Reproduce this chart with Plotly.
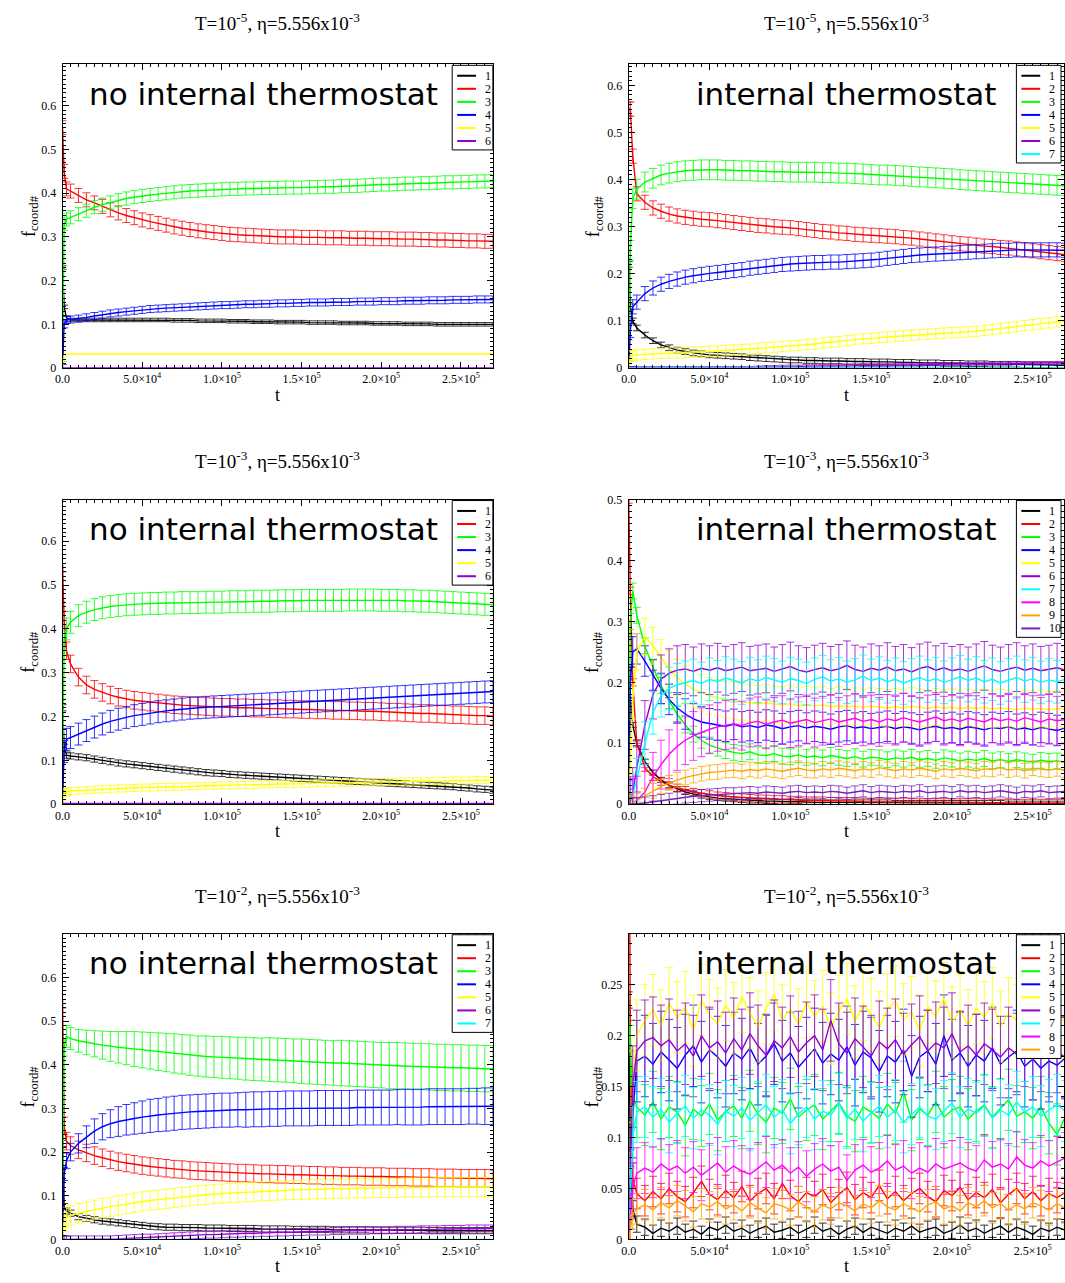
import plotly.graph_objects as go

W, H = 1065, 1283
SERIF = "Liberation Serif, Times New Roman, serif"
SANS = "DejaVu Sans, Verdana, sans-serif"

# ---------------------------------------------------------------- time grid
# sampling times in units of 1000 steps
T_KILO = [0, 1, 2.5, 5, 10,
          15, 20, 25, 30, 35, 40, 45, 50, 55, 60,
          65, 70, 75, 80, 85, 90, 95, 100, 105, 110,
          115, 120, 125, 130, 135, 140, 145, 150, 155, 160,
          165, 170, 175, 180, 185, 190, 195, 200, 205, 210,
          215, 220, 225, 230, 235, 240, 245, 250, 255, 260,
          265, 270]
T = [k * 1000 for k in T_KILO]

X_TICKS = [0, 50000, 100000, 150000, 200000, 250000]
X_TICK_TEXT = ["0.0", "5.0×10<sup>4</sup>", "1.0×10<sup>5</sup>", "1.5×10<sup>5</sup>",
               "2.0×10<sup>5</sup>", "2.5×10<sup>5</sup>"]

# grace palette, one colour per coordination number
COLORS = ["#000000", "#ff0000", "#00ff00", "#0000ff", "#ffff00",
          "#9400d3", "#00ffff", "#ff00ff", "#ffa500", "#7221bc"]

ZERO = [0.0, 0.0, 0.0, 0.0, 0.0,
        0.0, 0.0, 0.0, 0.0, 0.0, 0.0, 0.0, 0.0, 0.0, 0.0,
        0.0, 0.0, 0.0, 0.0, 0.0, 0.0, 0.0, 0.0, 0.0, 0.0,
        0.0, 0.0, 0.0, 0.0, 0.0, 0.0, 0.0, 0.0, 0.0, 0.0,
        0.0, 0.0, 0.0, 0.0, 0.0, 0.0, 0.0, 0.0, 0.0, 0.0,
        0.0, 0.0, 0.0, 0.0, 0.0, 0.0, 0.0, 0.0, 0.0, 0.0,
        0.0, 0.0]

# ------------------------------------------------ T=1e-5, no internal thermostat
TL_1 = [0.23, 0.14, 0.115, 0.11, 0.11,
        0.11, 0.11, 0.11, 0.11, 0.11, 0.11, 0.11, 0.11, 0.11, 0.11,
        0.11, 0.109, 0.109, 0.109, 0.108, 0.108, 0.108, 0.108, 0.107, 0.107,
        0.107, 0.106, 0.106, 0.106, 0.105, 0.105, 0.105, 0.105, 0.104, 0.104,
        0.104, 0.104, 0.103, 0.103, 0.103, 0.103, 0.102, 0.102, 0.102, 0.102,
        0.101, 0.101, 0.101, 0.101, 0.1, 0.1, 0.1, 0.1, 0.1, 0.1,
        0.1, 0.1]
TL_2 = [0.55, 0.45, 0.41, 0.405, 0.395,
        0.385, 0.378, 0.37, 0.362, 0.355, 0.349, 0.344, 0.339, 0.335, 0.331,
        0.327, 0.323, 0.32, 0.317, 0.314, 0.312, 0.31, 0.308, 0.306, 0.305,
        0.304, 0.303, 0.302, 0.301, 0.3, 0.3, 0.3, 0.299, 0.299, 0.299,
        0.298, 0.298, 0.298, 0.297, 0.297, 0.297, 0.296, 0.296, 0.296, 0.295,
        0.295, 0.295, 0.294, 0.294, 0.293, 0.293, 0.292, 0.292, 0.291, 0.291,
        0.29, 0.29]
TL_3 = [0.0, 0.33, 0.34, 0.345, 0.352,
        0.36, 0.368, 0.374, 0.379, 0.384, 0.388, 0.391, 0.394, 0.396, 0.398,
        0.4, 0.402, 0.404, 0.405, 0.406, 0.407, 0.408, 0.409, 0.41, 0.41,
        0.411, 0.411, 0.412, 0.412, 0.412, 0.413, 0.413, 0.413, 0.414, 0.414,
        0.415, 0.415, 0.416, 0.417, 0.417, 0.418, 0.419, 0.42, 0.42, 0.421,
        0.422, 0.422, 0.423, 0.423, 0.424, 0.425, 0.425, 0.426, 0.426, 0.427,
        0.427, 0.428]
TL_4 = [0.0, 0.1, 0.11, 0.111, 0.113,
        0.116, 0.119, 0.122, 0.125, 0.127, 0.129, 0.131, 0.133, 0.135, 0.136,
        0.137, 0.138, 0.139, 0.14, 0.141, 0.142, 0.143, 0.144, 0.144, 0.145,
        0.146, 0.146, 0.147, 0.147, 0.148, 0.148, 0.149, 0.149, 0.15, 0.15,
        0.15, 0.151, 0.151, 0.151, 0.152, 0.152, 0.152, 0.153, 0.153, 0.153,
        0.154, 0.154, 0.154, 0.155, 0.155, 0.155, 0.156, 0.156, 0.156, 0.157,
        0.157, 0.157]
TL_5 = [0.0, 0.03, 0.032, 0.032, 0.032,
        0.032, 0.032, 0.032, 0.032, 0.032, 0.032, 0.032, 0.032, 0.032, 0.032,
        0.032, 0.032, 0.032, 0.032, 0.032, 0.032, 0.032, 0.032, 0.032, 0.032,
        0.032, 0.032, 0.032, 0.032, 0.032, 0.032, 0.032, 0.032, 0.032, 0.032,
        0.032, 0.032, 0.032, 0.032, 0.032, 0.032, 0.032, 0.032, 0.032, 0.032,
        0.032, 0.032, 0.032, 0.032, 0.032, 0.032, 0.032, 0.032, 0.032, 0.032,
        0.032, 0.032]
TL_6 = ZERO
TL_ERR = [0.004, 0.016, 0.015, 0.008, 0.0, 0.0]

# --------------------------------------------------- T=1e-5, internal thermostat
TR_1 = [0.22, 0.13, 0.1, 0.085, 0.07,
        0.058, 0.049, 0.043, 0.038, 0.035, 0.032, 0.03, 0.028, 0.027, 0.026,
        0.025, 0.024, 0.022, 0.021, 0.02, 0.019, 0.018, 0.017, 0.017, 0.016,
        0.016, 0.015, 0.015, 0.015, 0.014, 0.014, 0.014, 0.013, 0.013, 0.013,
        0.012, 0.012, 0.012, 0.011, 0.011, 0.011, 0.01, 0.01, 0.01, 0.009,
        0.009, 0.009, 0.008, 0.008, 0.008, 0.008, 0.007, 0.007, 0.007, 0.007,
        0.006, 0.006]
TR_2 = [0.55, 0.55, 0.45, 0.37, 0.352,
        0.34, 0.333, 0.327, 0.323, 0.32, 0.318, 0.316, 0.315, 0.313, 0.311,
        0.309, 0.307, 0.305, 0.303, 0.302, 0.3, 0.299, 0.298, 0.296, 0.294,
        0.292, 0.29, 0.289, 0.287, 0.286, 0.284, 0.283, 0.282, 0.281, 0.28,
        0.279, 0.277, 0.276, 0.274, 0.272, 0.27, 0.268, 0.266, 0.264, 0.263,
        0.261, 0.259, 0.258, 0.256, 0.255, 0.253, 0.251, 0.249, 0.247, 0.245,
        0.243, 0.241]
TR_3 = [0.0, 0.25, 0.36, 0.38, 0.395,
        0.403, 0.41, 0.414, 0.417, 0.419, 0.42, 0.421, 0.421, 0.421, 0.42,
        0.42, 0.419, 0.419, 0.418, 0.418, 0.417, 0.417, 0.416, 0.416, 0.416,
        0.416, 0.415, 0.415, 0.414, 0.414, 0.413, 0.412, 0.411, 0.41, 0.41,
        0.409, 0.408, 0.407, 0.406, 0.405, 0.404, 0.403, 0.402, 0.4, 0.399,
        0.398, 0.397, 0.396, 0.395, 0.394, 0.393, 0.392, 0.391, 0.39, 0.389,
        0.388, 0.387]
TR_4 = [0.0, 0.08, 0.13, 0.14, 0.158,
        0.17, 0.178, 0.184, 0.189, 0.193, 0.196, 0.199, 0.201, 0.203, 0.205,
        0.207, 0.209, 0.212, 0.214, 0.216, 0.218, 0.22, 0.221, 0.222, 0.223,
        0.224, 0.224, 0.225, 0.225, 0.226, 0.227, 0.228, 0.229, 0.231, 0.233,
        0.235, 0.237, 0.239, 0.24, 0.241, 0.242, 0.243, 0.244, 0.245, 0.246,
        0.247, 0.248, 0.249, 0.25, 0.25, 0.251, 0.251, 0.251, 0.251, 0.251,
        0.251, 0.25]
TR_5 = [0.0, 0.025, 0.027, 0.028, 0.029,
        0.03, 0.031, 0.032, 0.032, 0.033, 0.034, 0.034, 0.035, 0.036, 0.037,
        0.038, 0.039, 0.04, 0.042, 0.043, 0.044, 0.046, 0.047, 0.048, 0.05,
        0.051, 0.053, 0.055, 0.056, 0.058, 0.06, 0.062, 0.063, 0.065, 0.066,
        0.067, 0.068, 0.07, 0.071, 0.072, 0.073, 0.074, 0.075, 0.076, 0.077,
        0.078, 0.08, 0.082, 0.084, 0.086, 0.088, 0.09, 0.092, 0.094, 0.096,
        0.098, 0.1]
TR_6 = [0.0, 0.0, 0.0, 0.0, 0.0,
        0.0, 0.0, 0.0, 0.0, 0.0, 0.0, 0.0, 0.0, 0.0, 0.0,
        0.0, 0.0, 0.0, 0.001, 0.002, 0.002, 0.003, 0.003, 0.003, 0.004,
        0.004, 0.004, 0.005, 0.005, 0.005, 0.005, 0.006, 0.006, 0.006, 0.006,
        0.007, 0.007, 0.007, 0.007, 0.008, 0.008, 0.008, 0.008, 0.008, 0.008,
        0.009, 0.009, 0.009, 0.009, 0.009, 0.01, 0.01, 0.01, 0.01, 0.01,
        0.011, 0.011]
TR_7 = ZERO
TR_ERR = [0.006, 0.015, 0.021, 0.015, 0.011, 0.003, 0.0]

# ------------------------------------------------ T=1e-3, no internal thermostat
ML_1 = [0.22, 0.13, 0.112, 0.11, 0.108,
        0.106, 0.103, 0.1, 0.097, 0.094, 0.092, 0.09, 0.088, 0.086, 0.084,
        0.082, 0.08, 0.078, 0.076, 0.074, 0.072, 0.071, 0.07, 0.068, 0.067,
        0.066, 0.065, 0.064, 0.063, 0.062, 0.061, 0.06, 0.059, 0.058, 0.057,
        0.056, 0.055, 0.054, 0.053, 0.052, 0.051, 0.05, 0.049, 0.048, 0.047,
        0.046, 0.045, 0.044, 0.043, 0.042, 0.041, 0.04, 0.038, 0.037, 0.035,
        0.034, 0.032]
ML_2 = [0.55, 0.42, 0.35, 0.32, 0.29,
        0.272, 0.262, 0.255, 0.249, 0.244, 0.24, 0.237, 0.235, 0.233, 0.231,
        0.229, 0.227, 0.226, 0.225, 0.224, 0.223, 0.222, 0.221, 0.221, 0.22,
        0.22, 0.219, 0.219, 0.218, 0.218, 0.217, 0.217, 0.216, 0.216, 0.215,
        0.215, 0.214, 0.214, 0.213, 0.213, 0.212, 0.212, 0.211, 0.21, 0.21,
        0.209, 0.208, 0.207, 0.207, 0.206, 0.205, 0.204, 0.204, 0.203, 0.202,
        0.202, 0.201]
ML_3 = [0.0, 0.37, 0.4, 0.415, 0.43,
        0.438, 0.444, 0.448, 0.451, 0.453, 0.455, 0.456, 0.457, 0.458, 0.458,
        0.459, 0.459, 0.46, 0.46, 0.46, 0.461, 0.461, 0.461, 0.462, 0.462,
        0.462, 0.463, 0.463, 0.463, 0.464, 0.464, 0.464, 0.465, 0.465, 0.465,
        0.465, 0.465, 0.465, 0.466, 0.466, 0.466, 0.466, 0.465, 0.465, 0.465,
        0.464, 0.464, 0.463, 0.463, 0.462, 0.461, 0.46, 0.459, 0.458, 0.457,
        0.456, 0.455]
ML_4 = [0.0, 0.12, 0.148, 0.152, 0.16,
        0.168, 0.176, 0.183, 0.189, 0.194, 0.198, 0.202, 0.205, 0.208, 0.211,
        0.213, 0.215, 0.217, 0.219, 0.22, 0.221, 0.222, 0.223, 0.224, 0.225,
        0.226, 0.227, 0.228, 0.229, 0.23, 0.231, 0.232, 0.233, 0.234, 0.235,
        0.236, 0.237, 0.238, 0.239, 0.24, 0.241, 0.242, 0.243, 0.244, 0.245,
        0.246, 0.247, 0.248, 0.249, 0.25, 0.251, 0.252, 0.253, 0.254, 0.255,
        0.256, 0.257]
ML_5 = [0.0, 0.025, 0.028, 0.03, 0.031,
        0.032, 0.033, 0.034, 0.035, 0.036, 0.036, 0.037, 0.038, 0.038, 0.039,
        0.039, 0.04, 0.04, 0.041, 0.041, 0.042, 0.042, 0.043, 0.043, 0.044,
        0.044, 0.044, 0.045, 0.045, 0.046, 0.046, 0.046, 0.047, 0.047, 0.048,
        0.048, 0.048, 0.049, 0.049, 0.05, 0.05, 0.05, 0.051, 0.051, 0.051,
        0.052, 0.052, 0.052, 0.053, 0.053, 0.053, 0.054, 0.054, 0.054, 0.055,
        0.055, 0.055]
ML_6 = [0.0, 0.002, 0.002, 0.002, 0.002,
        0.002, 0.002, 0.002, 0.002, 0.002, 0.002, 0.002, 0.002, 0.002, 0.002,
        0.002, 0.002, 0.002, 0.002, 0.002, 0.002, 0.002, 0.002, 0.002, 0.002,
        0.002, 0.002, 0.002, 0.002, 0.002, 0.002, 0.002, 0.002, 0.002, 0.002,
        0.002, 0.002, 0.002, 0.002, 0.002, 0.002, 0.002, 0.002, 0.002, 0.002,
        0.002, 0.002, 0.002, 0.002, 0.002, 0.002, 0.002, 0.002, 0.002, 0.002,
        0.002, 0.002]
ML_ERR = [0.007, 0.02, 0.025, 0.025, 0.008, 0.0]

# --------------------------------------------------- T=1e-3, internal thermostat
MR_1 = [0.2, 0.17, 0.13, 0.1, 0.07,
        0.052, 0.04, 0.031, 0.025, 0.02, 0.017, 0.014, 0.012, 0.01, 0.009,
        0.008, 0.007, 0.006, 0.006, 0.005, 0.005, 0.004, 0.004, 0.004, 0.003,
        0.003, 0.003, 0.003, 0.003, 0.003, 0.003, 0.003, 0.003, 0.003, 0.003,
        0.002, 0.002, 0.002, 0.002, 0.002, 0.002, 0.002, 0.002, 0.002, 0.002,
        0.002, 0.002, 0.002, 0.002, 0.001, 0.001, 0.001, 0.001, 0.001, 0.001,
        0.001, 0.001]
MR_2 = [0.5, 0.35, 0.2, 0.1, 0.06,
        0.045, 0.037, 0.031, 0.027, 0.023, 0.02, 0.018, 0.016, 0.014, 0.013,
        0.012, 0.011, 0.01, 0.009, 0.009, 0.008, 0.008, 0.007, 0.007, 0.006,
        0.006, 0.006, 0.005, 0.005, 0.005, 0.005, 0.004, 0.004, 0.004, 0.004,
        0.004, 0.004, 0.003, 0.003, 0.003, 0.003, 0.003, 0.003, 0.003, 0.003,
        0.003, 0.003, 0.002, 0.002, 0.002, 0.002, 0.002, 0.002, 0.002, 0.002,
        0.002, 0.002]
MR_3 = [0.0, 0.3, 0.35, 0.31, 0.26,
        0.225, 0.195, 0.17, 0.148, 0.13, 0.115, 0.105, 0.097, 0.092, 0.088,
        0.085, 0.083, 0.086, 0.081, 0.08, 0.083, 0.079, 0.078, 0.081, 0.077,
        0.079, 0.076, 0.08, 0.077, 0.075, 0.078, 0.074, 0.077, 0.076, 0.073,
        0.076, 0.074, 0.077, 0.073, 0.075, 0.072, 0.076, 0.074, 0.071, 0.074,
        0.072, 0.075, 0.071, 0.073, 0.07, 0.073, 0.071, 0.069, 0.072, 0.07,
        0.071, 0.069]
MR_4 = [0.0, 0.2, 0.25, 0.255, 0.235,
        0.212, 0.19, 0.172, 0.158, 0.148, 0.14, 0.135, 0.132, 0.13, 0.128,
        0.131, 0.127, 0.129, 0.126, 0.13, 0.128, 0.124, 0.127, 0.129, 0.125,
        0.128, 0.126, 0.123, 0.127, 0.129, 0.125, 0.127, 0.124, 0.126, 0.128,
        0.124, 0.127, 0.125, 0.122, 0.126, 0.128, 0.124, 0.126, 0.123, 0.127,
        0.125, 0.122, 0.126, 0.124, 0.127, 0.123, 0.125, 0.122, 0.126, 0.124,
        0.121, 0.125]
MR_5 = [0.0, 0.08, 0.17, 0.25, 0.275,
        0.26, 0.24, 0.222, 0.208, 0.197, 0.189, 0.183, 0.178, 0.175, 0.172,
        0.17, 0.168, 0.167, 0.165, 0.166, 0.164, 0.163, 0.165, 0.162, 0.163,
        0.161, 0.163, 0.16, 0.162, 0.16, 0.161, 0.159, 0.161, 0.16, 0.158,
        0.16, 0.158, 0.161, 0.159, 0.157, 0.16, 0.158, 0.159, 0.157, 0.159,
        0.157, 0.159, 0.156, 0.158, 0.157, 0.155, 0.158, 0.156, 0.157, 0.155,
        0.157, 0.156]
MR_6 = [0.0, 0.005, 0.02, 0.06, 0.13,
        0.18, 0.205, 0.215, 0.22, 0.222, 0.218, 0.223, 0.22, 0.224, 0.219,
        0.222, 0.225, 0.219, 0.221, 0.223, 0.218, 0.222, 0.226, 0.22, 0.217,
        0.221, 0.224, 0.219, 0.222, 0.228, 0.221, 0.218, 0.223, 0.22, 0.225,
        0.219, 0.222, 0.217, 0.223, 0.226, 0.22, 0.224, 0.219, 0.222, 0.218,
        0.223, 0.227, 0.221, 0.218, 0.222, 0.225, 0.22, 0.223, 0.219, 0.221,
        0.224, 0.22]
MR_7 = [0.0, 0.003, 0.015, 0.04, 0.1,
        0.15, 0.178, 0.19, 0.196, 0.2, 0.203, 0.198, 0.205, 0.201, 0.207,
        0.203, 0.199, 0.206, 0.202, 0.208, 0.204, 0.2, 0.206, 0.203, 0.198,
        0.205, 0.209, 0.202, 0.206, 0.2, 0.204, 0.21, 0.203, 0.207, 0.201,
        0.205, 0.199, 0.204, 0.208, 0.202, 0.206, 0.2, 0.205, 0.209, 0.203,
        0.207, 0.201, 0.205, 0.199, 0.204, 0.208, 0.202, 0.206, 0.2, 0.204,
        0.201, 0.205]
MR_8 = [0.0, 0.0, 0.002, 0.006, 0.02,
        0.045, 0.065, 0.082, 0.095, 0.105, 0.112, 0.118, 0.123, 0.127, 0.13,
        0.132, 0.129, 0.134, 0.136, 0.131, 0.135, 0.138, 0.133, 0.136, 0.139,
        0.134, 0.137, 0.14, 0.135, 0.138, 0.141, 0.136, 0.139, 0.135, 0.14,
        0.137, 0.142, 0.138, 0.135, 0.139, 0.143, 0.137, 0.14, 0.136, 0.141,
        0.138, 0.135, 0.141, 0.137, 0.14, 0.136, 0.142, 0.138, 0.135, 0.14,
        0.137, 0.139]
MR_9 = [0.0, 0.0, 0.002, 0.006, 0.014,
        0.022, 0.029, 0.035, 0.04, 0.044, 0.047, 0.05, 0.052, 0.053, 0.055,
        0.056, 0.054, 0.057, 0.055, 0.058, 0.056, 0.054, 0.057, 0.059, 0.056,
        0.055, 0.058, 0.056, 0.059, 0.057, 0.055, 0.058, 0.056, 0.06, 0.057,
        0.055, 0.058, 0.056, 0.059, 0.057, 0.054, 0.058, 0.056, 0.059, 0.057,
        0.055, 0.058, 0.057, 0.06, 0.056, 0.058, 0.055, 0.059, 0.057, 0.056,
        0.058, 0.056]
MR_10 = [0.0, 0.0, 0.0, 0.001, 0.002,
         0.004, 0.006, 0.008, 0.01, 0.012, 0.013, 0.014, 0.015, 0.016, 0.017,
         0.017, 0.018, 0.019, 0.018, 0.02, 0.019, 0.018, 0.02, 0.021, 0.019,
         0.02, 0.019, 0.021, 0.02, 0.018, 0.02, 0.022, 0.019, 0.021, 0.02,
         0.019, 0.021, 0.02, 0.022, 0.019, 0.02, 0.021, 0.019, 0.022, 0.02,
         0.021, 0.019, 0.02, 0.022, 0.02, 0.018, 0.021, 0.02, 0.022, 0.019,
         0.02, 0.021]
MR_ERR = [0.004, 0.006, 0.013, 0.025, 0.03, 0.04, 0.035, 0.04, 0.012, 0.01]

# ------------------------------------------------ T=1e-2, no internal thermostat
BL_1 = [0.22, 0.075, 0.065, 0.06, 0.052,
        0.048, 0.045, 0.042, 0.04, 0.038, 0.036, 0.034, 0.032, 0.03, 0.029,
        0.028, 0.028, 0.027, 0.027, 0.027, 0.026, 0.026, 0.026, 0.025, 0.025,
        0.025, 0.025, 0.024, 0.024, 0.024, 0.024, 0.023, 0.023, 0.023, 0.023,
        0.023, 0.022, 0.022, 0.022, 0.022, 0.022, 0.021, 0.021, 0.021, 0.021,
        0.021, 0.021, 0.021, 0.02, 0.02, 0.02, 0.02, 0.02, 0.02, 0.02,
        0.02, 0.02]
BL_2 = [0.55, 0.26, 0.225, 0.215, 0.205,
        0.198, 0.192, 0.187, 0.182, 0.178, 0.175, 0.172, 0.169, 0.167, 0.165,
        0.163, 0.161, 0.16, 0.158, 0.157, 0.156, 0.155, 0.154, 0.153, 0.152,
        0.152, 0.151, 0.15, 0.15, 0.149, 0.149, 0.148, 0.148, 0.147, 0.147,
        0.146, 0.146, 0.145, 0.145, 0.145, 0.144, 0.144, 0.144, 0.143, 0.143,
        0.143, 0.142, 0.142, 0.142, 0.141, 0.141, 0.141, 0.14, 0.14, 0.14,
        0.14, 0.139]
BL_3 = [0.0, 0.44, 0.465, 0.46, 0.455,
        0.451, 0.448, 0.445, 0.442, 0.44, 0.438, 0.436, 0.434, 0.432, 0.43,
        0.428, 0.426, 0.424, 0.422, 0.42, 0.419, 0.418, 0.417, 0.416, 0.415,
        0.414, 0.413, 0.412, 0.412, 0.411, 0.41, 0.409, 0.408, 0.407, 0.406,
        0.405, 0.404, 0.404, 0.403, 0.402, 0.401, 0.4, 0.399, 0.398, 0.398,
        0.397, 0.396, 0.396, 0.395, 0.394, 0.394, 0.393, 0.393, 0.392, 0.392,
        0.391, 0.391]
BL_3_ERR = [0.0, 0.02, 0.025, 0.025, 0.026,
            0.028, 0.03, 0.032, 0.034, 0.036, 0.038, 0.04, 0.041, 0.042, 0.043,
            0.044, 0.045, 0.045, 0.046, 0.046, 0.047, 0.047, 0.048, 0.048, 0.048,
            0.049, 0.049, 0.049, 0.05, 0.05, 0.05, 0.05, 0.051, 0.051, 0.051,
            0.051, 0.051, 0.052, 0.052, 0.052, 0.052, 0.052, 0.052, 0.053, 0.053,
            0.053, 0.053, 0.053, 0.053, 0.053, 0.053, 0.053, 0.053, 0.053, 0.053,
            0.053, 0.053]
BL_4 = [0.0, 0.15, 0.18, 0.2, 0.22,
        0.235, 0.248, 0.258, 0.265, 0.27, 0.274, 0.277, 0.28, 0.283, 0.285,
        0.287, 0.289, 0.291, 0.292, 0.293, 0.294, 0.295, 0.296, 0.296, 0.297,
        0.297, 0.298, 0.298, 0.299, 0.299, 0.3, 0.3, 0.3, 0.3, 0.301,
        0.301, 0.301, 0.301, 0.301, 0.302, 0.302, 0.302, 0.302, 0.302, 0.303,
        0.303, 0.303, 0.303, 0.304, 0.304, 0.304, 0.304, 0.304, 0.305, 0.305,
        0.305, 0.305]
BL_4_ERR = [0.0, 0.015, 0.018, 0.02, 0.022,
            0.025, 0.028, 0.03, 0.032, 0.034, 0.035, 0.036, 0.037, 0.038, 0.038,
            0.039, 0.039, 0.039, 0.039, 0.039, 0.039, 0.039, 0.039, 0.039, 0.039,
            0.04, 0.04, 0.04, 0.04, 0.04, 0.04, 0.04, 0.04, 0.04, 0.04,
            0.04, 0.04, 0.04, 0.04, 0.04, 0.04, 0.04, 0.04, 0.04, 0.04,
            0.041, 0.041, 0.041, 0.041, 0.041, 0.041, 0.041, 0.041, 0.041, 0.041,
            0.042, 0.042]
BL_5 = [0.0, 0.04, 0.05, 0.055, 0.06,
        0.064, 0.068, 0.072, 0.075, 0.078, 0.081, 0.084, 0.087, 0.089, 0.091,
        0.093, 0.095, 0.097, 0.099, 0.101, 0.102, 0.104, 0.105, 0.106, 0.107,
        0.108, 0.109, 0.11, 0.111, 0.112, 0.113, 0.113, 0.114, 0.114, 0.115,
        0.115, 0.116, 0.116, 0.117, 0.117, 0.117, 0.118, 0.118, 0.118, 0.118,
        0.119, 0.119, 0.119, 0.119, 0.12, 0.12, 0.12, 0.12, 0.12, 0.12,
        0.12, 0.12]
BL_6 = [0.0, 0.0, 0.0, 0.0, 0.0,
        0.0, 0.0, 0.0, 0.0, 0.001, 0.002, 0.003, 0.004, 0.004, 0.005,
        0.006, 0.007, 0.008, 0.009, 0.01, 0.011, 0.011, 0.012, 0.013, 0.013,
        0.014, 0.014, 0.015, 0.015, 0.016, 0.016, 0.017, 0.017, 0.018, 0.018,
        0.018, 0.019, 0.019, 0.02, 0.02, 0.02, 0.021, 0.021, 0.021, 0.022,
        0.022, 0.022, 0.023, 0.023, 0.023, 0.024, 0.024, 0.024, 0.025, 0.025,
        0.025, 0.025]
BL_7 = ZERO
BL_ERR = [0.007, 0.02, BL_3_ERR, BL_4_ERR, 0.022, 0.008, 0.0]

# --------------------------------------------------- T=1e-2, internal thermostat
BR_1 = [0.235, 0.08, 0.03, 0.015, 0.012,
        0.006, 0.011, 0.008, 0.013, 0.007, 0.01, 0.005, 0.012, 0.009, 0.014,
        0.008, 0.011, 0.006, 0.01, 0.013, 0.007, 0.009, 0.012, 0.006, 0.01,
        0.014, 0.008, 0.011, 0.005, 0.01, 0.013, 0.007, 0.012, 0.009, 0.006,
        0.011, 0.008, 0.013, 0.007, 0.01, 0.012, 0.006, 0.009, 0.014, 0.008,
        0.011, 0.006, 0.01, 0.013, 0.007, 0.012, 0.009, 0.005, 0.011, 0.008,
        0.012, 0.009]
BR_2 = [0.55, 0.2, 0.06, 0.045, 0.038,
        0.047, 0.04, 0.05, 0.042, 0.037, 0.046, 0.057, 0.044, 0.039, 0.048,
        0.041, 0.052, 0.038, 0.045, 0.05, 0.04, 0.055, 0.043, 0.037, 0.046,
        0.042, 0.049, 0.036, 0.044, 0.051, 0.039, 0.046, 0.041, 0.053, 0.04,
        0.047, 0.038, 0.045, 0.05, 0.042, 0.037, 0.048, 0.043, 0.051, 0.039,
        0.046, 0.041, 0.049, 0.036, 0.044, 0.05, 0.04, 0.047, 0.038, 0.045,
        0.041, 0.046]
BR_3 = [0.22, 0.18, 0.14, 0.13, 0.122,
        0.135, 0.118, 0.13, 0.125, 0.112, 0.128, 0.121, 0.133, 0.117, 0.126,
        0.131, 0.119, 0.136, 0.123, 0.115, 0.129, 0.124, 0.138, 0.12, 0.127,
        0.132, 0.118, 0.126, 0.134, 0.121, 0.116, 0.13, 0.125, 0.119, 0.133,
        0.124, 0.145, 0.117, 0.128, 0.122, 0.135, 0.12, 0.127, 0.13, 0.118,
        0.126, 0.132, 0.12, 0.128, 0.137, 0.121, 0.125, 0.119, 0.13, 0.114,
        0.103, 0.12]
BR_4 = [0.01, 0.05, 0.12, 0.175, 0.18,
        0.172, 0.184, 0.176, 0.168, 0.181, 0.19, 0.174, 0.186, 0.179, 0.17,
        0.183, 0.177, 0.188, 0.172, 0.18, 0.192, 0.175, 0.183, 0.169, 0.178,
        0.187, 0.173, 0.182, 0.176, 0.189, 0.171, 0.184, 0.178, 0.165, 0.18,
        0.174, 0.186, 0.16, 0.179, 0.185, 0.172, 0.2, 0.176, 0.183, 0.17,
        0.181, 0.175, 0.188, 0.172, 0.179, 0.185, 0.17, 0.177, 0.168, 0.175,
        0.171, 0.178]
BR_5 = [0.0, 0.05, 0.15, 0.2, 0.215,
        0.225, 0.21, 0.232, 0.218, 0.228, 0.205, 0.235, 0.22, 0.212, 0.23,
        0.217, 0.238, 0.222, 0.209, 0.227, 0.24, 0.215, 0.226, 0.211, 0.233,
        0.219, 0.229, 0.207, 0.224, 0.236, 0.214, 0.23, 0.221, 0.208, 0.226,
        0.234, 0.216, 0.223, 0.205, 0.228, 0.219, 0.237, 0.213, 0.225, 0.21,
        0.227, 0.218, 0.232, 0.209, 0.222, 0.215, 0.23, 0.212, 0.224, 0.218,
        0.221, 0.214]
BR_6 = [0.0, 0.06, 0.15, 0.185, 0.195,
        0.198, 0.19, 0.196, 0.185, 0.192, 0.18, 0.2, 0.188, 0.194, 0.183,
        0.197, 0.186, 0.202, 0.19, 0.181, 0.195, 0.188, 0.199, 0.184, 0.193,
        0.2, 0.186, 0.215, 0.192, 0.183, 0.197, 0.189, 0.18, 0.194, 0.187,
        0.196, 0.182, 0.191, 0.199, 0.185, 0.193, 0.188, 0.202, 0.184, 0.19,
        0.181, 0.192, 0.186, 0.179, 0.188, 0.182, 0.19, 0.177, 0.185, 0.18,
        0.184, 0.179]
BR_7 = [0.0, 0.04, 0.1, 0.125, 0.13,
        0.12, 0.128, 0.115, 0.124, 0.131, 0.119, 0.127, 0.122, 0.113, 0.126,
        0.121, 0.129, 0.117, 0.125, 0.132, 0.12, 0.127, 0.114, 0.123, 0.13,
        0.118, 0.126, 0.122, 0.133, 0.119, 0.128, 0.116, 0.124, 0.131, 0.12,
        0.127, 0.115, 0.123, 0.13, 0.121, 0.118, 0.126, 0.134, 0.12, 0.128,
        0.124, 0.131, 0.119, 0.127, 0.122, 0.135, 0.125, 0.13, 0.121, 0.127,
        0.132, 0.126]
BR_8 = [0.0, 0.02, 0.05, 0.065, 0.07,
        0.066, 0.074, 0.068, 0.072, 0.065, 0.071, 0.063, 0.069, 0.075, 0.066,
        0.072, 0.067, 0.064, 0.07, 0.076, 0.068, 0.073, 0.065, 0.071, 0.062,
        0.069, 0.074, 0.067, 0.071, 0.058, 0.068, 0.073, 0.066, 0.07, 0.077,
        0.068, 0.072, 0.065, 0.07, 0.066, 0.074, 0.069, 0.072, 0.075, 0.07,
        0.067, 0.078, 0.071, 0.074, 0.069, 0.081, 0.073, 0.07, 0.077, 0.072,
        0.076, 0.08]
BR_9 = [0.0, 0.01, 0.025, 0.03, 0.034,
        0.029, 0.036, 0.031, 0.038, 0.033, 0.027, 0.035, 0.032, 0.037, 0.03,
        0.034, 0.028, 0.036, 0.031, 0.026, 0.035, 0.033, 0.029, 0.037, 0.032,
        0.027, 0.034, 0.03, 0.036, 0.033, 0.028, 0.035, 0.031, 0.038, 0.032,
        0.029, 0.035, 0.031, 0.027, 0.034, 0.037, 0.03, 0.033, 0.028, 0.036,
        0.032, 0.038, 0.031, 0.035, 0.029, 0.034, 0.03, 0.036, 0.033, 0.029,
        0.035, 0.031]
BR_ERR = [0.008, 0.015, 0.03, 0.04, 0.035, 0.04, 0.03, 0.025, 0.015]

PANELS = [
    dict(temp="-5", label="no internal thermostat", ymax=0.695,
         yticks=[0, 0.1, 0.2, 0.3, 0.4, 0.5, 0.6],
         series=[TL_1, TL_2, TL_3, TL_4, TL_5, TL_6], errors=TL_ERR),
    dict(temp="-5", label="internal thermostat", ymax=0.645,
         yticks=[0, 0.1, 0.2, 0.3, 0.4, 0.5, 0.6],
         series=[TR_1, TR_2, TR_3, TR_4, TR_5, TR_6, TR_7], errors=TR_ERR),
    dict(temp="-3", label="no internal thermostat", ymax=0.695,
         yticks=[0, 0.1, 0.2, 0.3, 0.4, 0.5, 0.6],
         series=[ML_1, ML_2, ML_3, ML_4, ML_5, ML_6], errors=ML_ERR),
    dict(temp="-3", label="internal thermostat", ymax=0.5,
         yticks=[0, 0.1, 0.2, 0.3, 0.4, 0.5],
         series=[MR_1, MR_2, MR_3, MR_4, MR_5, MR_6, MR_7, MR_8, MR_9, MR_10],
         errors=MR_ERR),
    dict(temp="-2", label="no internal thermostat", ymax=0.70,
         yticks=[0, 0.1, 0.2, 0.3, 0.4, 0.5, 0.6],
         series=[BL_1, BL_2, BL_3, BL_4, BL_5, BL_6, BL_7], errors=BL_ERR),
    dict(temp="-2", label="internal thermostat", ymax=0.30,
         yticks=[0, 0.05, 0.1, 0.15, 0.2, 0.25],
         series=[BR_1, BR_2, BR_3, BR_4, BR_5, BR_6, BR_7, BR_8, BR_9],
         errors=BR_ERR),
]

# ---------------------------------------------------------------- geometry (px)
COLS = [dict(x0=55, x1=489, xc=272, xmax=270000, leg_x0=448, leg_x1=489,
             text_right=436, ylab_x=22),
        dict(x0=626, x1=1065, xc=846, xmax=269300, leg_x0=1017, leg_x1=1062,
             text_right=999, ylab_x=591)]
ROWS = [dict(top=58, bottom=365, title_y=15),
        dict(top=498, bottom=806, title_y=458),
        dict(top=937, bottom=1246, title_y=898)]


def px(x):
    return x / W


def py(y):
    return 1 - y / H


def fmt_tick(v):
    if v == 0:
        return "0"
    return "%g" % v


fig = go.Figure()
layout = dict(width=W, height=H, margin=dict(l=0, r=0, t=0, b=0),
              paper_bgcolor="white", plot_bgcolor="white", showlegend=False)
annotations = []
shapes = []

for i, p in enumerate(PANELS):
    col = COLS[i % 2]
    row = ROWS[i // 2]
    n = i + 1
    xname = "xaxis" if n == 1 else "xaxis%d" % n
    yname = "yaxis" if n == 1 else "yaxis%d" % n
    xref = "x" if n == 1 else "x%d" % n
    yref = "y" if n == 1 else "y%d" % n

    for k, vals in enumerate(p["series"]):
        assert len(vals) == len(T), (i, k, len(vals))
        c = COLORS[k]
        e = p["errors"][k]
        errs = e if isinstance(e, list) else [e] * len(T)
        fig.add_trace(go.Scatter(
            x=T, y=vals, xaxis=xref, yaxis=yref, mode="lines",
            line=dict(color=c, width=1.4), hoverinfo="skip", showlegend=False,
            error_y=dict(type="data", array=errs, visible=max(errs) > 0,
                         color=c, thickness=0.8, width=4)))

    tickfont = dict(family=SERIF, size=12, color="black")
    layout[xname] = dict(
        domain=[px(col["x0"]), px(col["x1"])], range=[0, col["xmax"]], anchor=yref,
        tickmode="array", tickvals=X_TICKS, ticktext=X_TICK_TEXT,
        ticks="inside", ticklen=6, tickwidth=1, tickcolor="black",
        mirror="allticks", showline=True, linecolor="black", linewidth=1,
        showgrid=False, zeroline=False, tickfont=tickfont, fixedrange=True,
        minor=dict(tickmode="linear", tick0=0, dtick=5000, ticks="inside",
                   ticklen=3, tickcolor="black", showgrid=False))
    layout[yname] = dict(
        domain=[py(row["bottom"]), py(row["top"])], range=[0, p["ymax"]], anchor=xref,
        tickmode="array", tickvals=p["yticks"], ticktext=[fmt_tick(v) for v in p["yticks"]],
        ticks="inside", ticklen=6, tickwidth=1, tickcolor="black",
        mirror="allticks", showline=True, linecolor="black", linewidth=1,
        showgrid=False, zeroline=False, tickfont=tickfont, fixedrange=True,
        ticklabelstandoff=3,
        minor=dict(tickmode="linear", tick0=0, dtick=0.01, ticks="inside",
                   ticklen=3, tickcolor="black", showgrid=False))

    # panel title
    annotations.append(dict(
        x=px(col["xc"]), y=py(row["title_y"]), xref="paper", yref="paper",
        text="T=10<sup>%s</sup>, η=5.556x10<sup>-3</sup>" % p["temp"],
        showarrow=False, xanchor="center", yanchor="middle",
        font=dict(family=SERIF, size=19, color="black")))
    # axis titles
    annotations.append(dict(
        x=px(col["xc"]), y=py(row["bottom"] + 27), xref="paper", yref="paper", text="t",
        showarrow=False, xanchor="center", yanchor="middle",
        font=dict(family=SERIF, size=18, color="black")))
    annotations.append(dict(
        x=px(col["ylab_x"]), y=py((row["top"] + row["bottom"]) / 2),
        xref="paper", yref="paper", text="f<sub>coord#</sub>", textangle=-90,
        showarrow=False, xanchor="center", yanchor="middle",
        font=dict(family=SERIF, size=18, color="black")))
    # in-plot label
    annotations.append(dict(
        x=px(col["text_right"]), y=py(row["top"] + 30), xref="paper", yref="paper",
        text=p["label"], showarrow=False, xanchor="right", yanchor="middle",
        font=dict(family=SANS, size=31, color="black")))

    # legend box
    nser = len(p["series"])
    lt = row["top"] + 1
    step = 13.2
    lb = lt + 10.5 + (nser - 1) * step + 9
    shapes.append(dict(type="rect", xref="paper", yref="paper",
                       x0=px(col["leg_x0"]), x1=px(col["leg_x1"]),
                       y0=py(lb), y1=py(lt),
                       line=dict(color="black", width=1), fillcolor="white", layer="above"))
    for k in range(nser):
        yy = lt + 10.5 + k * step
        shapes.append(dict(type="line", xref="paper", yref="paper",
                           x0=px(col["leg_x0"] + 5), x1=px(col["leg_x0"] + 24),
                           y0=py(yy), y1=py(yy),
                           line=dict(color=COLORS[k], width=2), layer="above"))
        annotations.append(dict(
            x=px(col["leg_x0"] + 31), y=py(yy), xref="paper", yref="paper",
            text=str(k + 1), showarrow=False, xanchor="left", yanchor="middle",
            font=dict(family=SERIF, size=12, color="black")))

layout["annotations"] = annotations
layout["shapes"] = shapes
fig.update_layout(**layout)
fig.write_html("out.html", config=dict(displayModeBar=False))
